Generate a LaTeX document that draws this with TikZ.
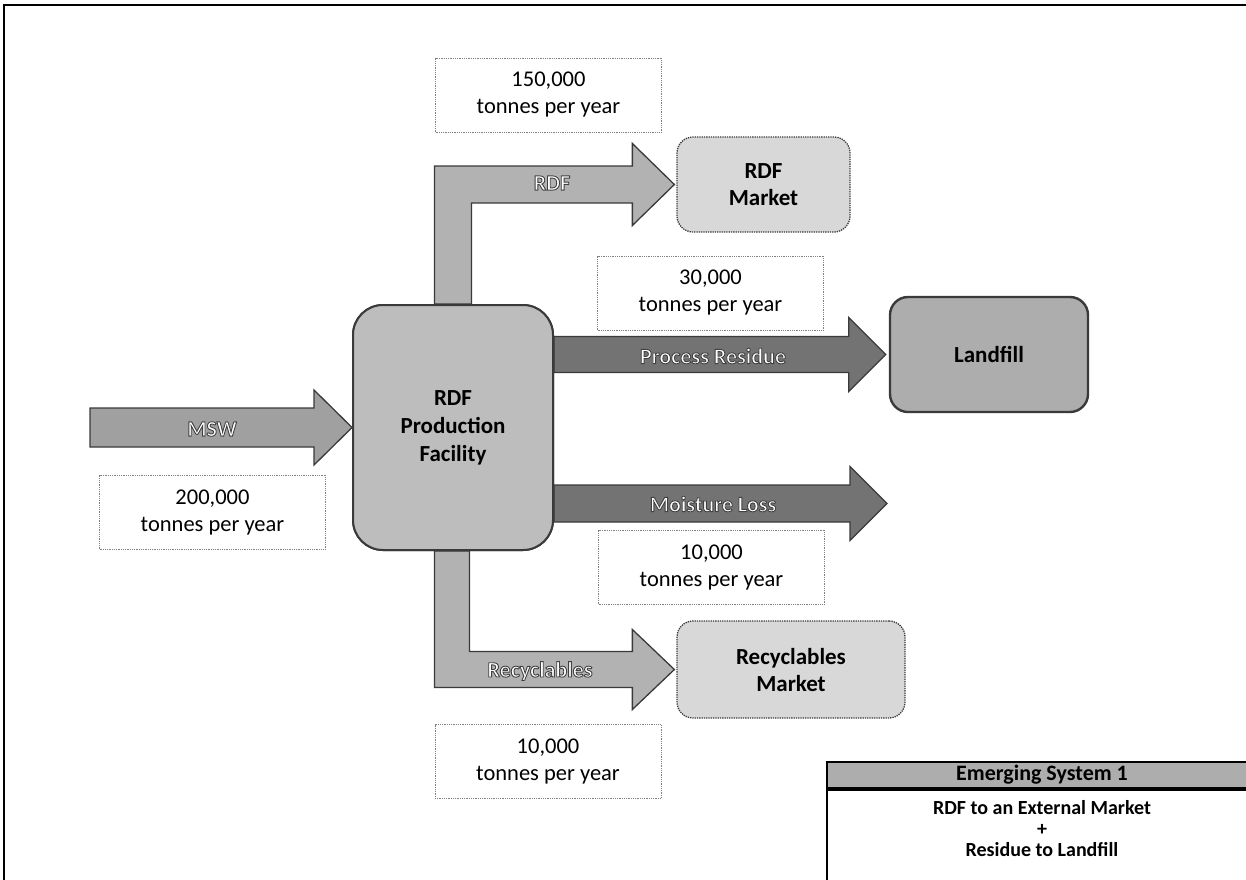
\documentclass[tikz,border=0pt]{standalone}
\usepackage{fontspec}
\setmainfont{Carlito}
\usetikzlibrary{calc}
\definecolor{facfill}{HTML}{BDBDBD}
\definecolor{mktfill}{HTML}{D8D8D8}
\definecolor{lndfill}{HTML}{ADADAD}
\definecolor{arrlight}{HTML}{B2B2B2}
\definecolor{arrmid}{HTML}{A0A0A0}
\definecolor{arrdark}{HTML}{737373}
\definecolor{edgegray}{HTML}{3A3A3A}
\definecolor{hdrfill}{HTML}{ADADAD}
\newcommand{\outl}[1]{\special{pdf:literal direct 0.25 G 0.9 w 2 Tr}#1\special{pdf:literal direct 0 Tr}}
\tikzset{
  mainbox/.style={draw=edgegray, line width=2pt, rounded corners=30pt, fill=facfill, inner sep=0pt,
    align=center, font=\fontsize{23}{28}\selectfont\bfseries},
  mktbox/.style={draw=edgegray, line width=1.3pt, densely dotted, rounded corners=16pt, fill=mktfill, inner sep=0pt,
    align=center, font=\fontsize{23}{27}\selectfont\bfseries},
  lndbox/.style={draw=edgegray, line width=2.4pt, rounded corners=18pt, fill=lndfill, inner sep=0pt,
    align=center, font=\fontsize{23}{27}\selectfont\bfseries},
  qtybox/.style={draw=gray, line width=0.8pt, densely dotted, fill=white, inner sep=0pt,
    minimum width=226pt, minimum height=74pt, align=center, font=\fontsize{22.5}{27}\selectfont},
  blockarrow/.style={draw=edgegray, line width=1.3pt, line join=miter},
  arrlabel/.style={text=white, inner sep=0pt, font=\fontsize{22}{24}\selectfont\bfseries},
  legtext/.style={inner sep=0pt, align=center, font=\fontsize{20}{21}\selectfont\bfseries},
  frameline/.style={line width=2pt, draw=black}
}
\begin{document}
\begin{tikzpicture}[x=1pt,y=-1pt]
\useasboundingbox (0,0) rectangle (1246,879);
\fill[white] (0,0) rectangle (1246,879);
\draw[frameline] (4,885) -- (4,5) -- (1252,5);

% target nodes (placed first for anchors)
\path node[mainbox, minimum width=200pt, minimum height=245pt] (fac) at (453,427.5) {};
\node[mktbox, minimum width=173pt, minimum height=95pt] (rdfm) at (763.5,184.5) {RDF\\Market};
\node[mktbox, minimum width=228pt, minimum height=97pt] (rcym) at (791,669.5) {Recyclables\\Market};
\node[lndbox, minimum width=198pt, minimum height=115pt] (lnd) at (989,354.5) {Landfill};
\coordinate (mtip) at (887,503.5);

% MSW arrow
\draw[blockarrow, fill=arrmid]
  ($(fac.west)+(-262,-19.5)$) -- ($(fac.west)+(-38,-19.5)$) -- ($(fac.west)+(-38,-37.5)$)
  -- (fac.west) -- ($(fac.west)+(-38,37.5)$) -- ($(fac.west)+(-38,19.5)$)
  -- ($(fac.west)+(-262,19.5)$) -- cycle;
% RDF bent arrow
\draw[blockarrow, fill=arrlight]
  ($(fac.north)+(-18.5,0)$) -- ($(fac.north |- rdfm.west)+(-18.5,-18.5)$)
  -- ($(rdfm.west)+(-44,-18.5)$) -- ($(rdfm.west)+(-44,-41)$) -- ($(rdfm.west)+(-2,0)$)
  -- ($(rdfm.west)+(-44,41)$) -- ($(rdfm.west)+(-44,18.5)$)
  -- ($(fac.north |- rdfm.west)+(18.5,18.5)$) -- ($(fac.north)+(18.5,0)$) -- cycle;
% Recyclables bent arrow
\draw[blockarrow, fill=arrlight]
  ($(fac.south)+(-18.5,0)$) -- ($(fac.south |- rcym.west)+(-18.5,18)$)
  -- ($(rcym.west)+(-44,18)$) -- ($(rcym.west)+(-44,40)$) -- ($(rcym.west)+(-2,0)$)
  -- ($(rcym.west)+(-44,-40)$) -- ($(rcym.west)+(-44,-18)$)
  -- ($(fac.south |- rcym.west)+(16.5,-18)$) -- ($(fac.south)+(16.5,0)$) -- cycle;
% Process residue arrow
\draw[blockarrow, fill=arrdark]
  ($(fac.east |- lnd.west)+(0,-18)$) -- ($(lnd.west)+(-40,-18)$) -- ($(lnd.west)+(-40,-37)$)
  -- ($(lnd.west)+(-3,0)$) -- ($(lnd.west)+(-40,37)$) -- ($(lnd.west)+(-40,18)$)
  -- ($(fac.east |- lnd.west)+(0,18)$) -- cycle;
% Moisture loss arrow
\draw[blockarrow, fill=arrdark]
  ($(fac.east |- mtip)+(0,-18.5)$) -- ($(mtip)+(-37,-18.5)$) -- ($(mtip)+(-37,-37)$)
  -- (mtip) -- ($(mtip)+(-37,37)$) -- ($(mtip)+(-37,18.5)$)
  -- ($(fac.east |- mtip)+(0,18.5)$) -- cycle;

% facility on top
\node[mainbox, minimum width=200pt, minimum height=245pt] (facbox) at (fac) {RDF\\Production\\Facility};

% arrow labels
\node[arrlabel] (lmsw) at (212,429) {\outl{MSW}};
\node[arrlabel] (lrdf) at (552,183) {\outl{RDF}};
\node[arrlabel] (lrcy) at (540,671) {\outl{Recyclables}};
\node[arrlabel] (lres) at (713,356) {\outl{Process Residue}};
\node[arrlabel] (lmst) at (713,504) {\outl{Moisture Loss}};

% quantity boxes
\node[qtybox] (q150) at (548.5,95) {150,000\\tonnes per year};
\node[qtybox] (q30) at (710.5,293) {30,000\\tonnes per year};
\node[qtybox] (q10m) at (711.5,567) {10,000\\tonnes per year};
\node[qtybox] (q10r) at (548,761.5) {10,000\\tonnes per year};
\node[qtybox] (q200) at (212.5,512) {200,000\\tonnes per year};

% legend table
\node[draw=black, line width=2.2pt, fill=hdrfill, minimum width=430pt, minimum height=26pt, inner sep=0pt,
  font=\fontsize{22}{24}\selectfont\bfseries] (legh) at (1042,775) {Emerging System 1};
\node[draw=black, line width=2.2pt, fill=white, minimum width=430pt, minimum height=92pt, anchor=north, inner sep=0pt] (legb) at (legh.south) {};
\node[legtext] (legt) at (1042,829) {RDF to an External Market\\+\\Residue to Landfill};
\end{tikzpicture}
\end{document}
